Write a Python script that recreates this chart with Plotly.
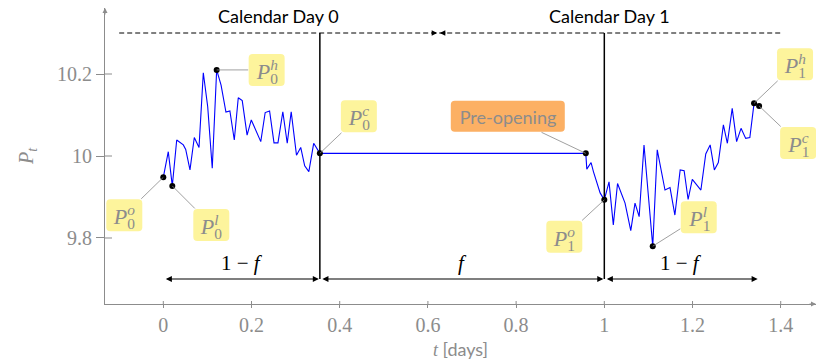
import plotly.graph_objects as go

# ---- price path data -------------------------------------------------------
# trading session of calendar day 0 (open -> close)
day0_t = [0, 0.0113, 0.0204, 0.0304, 0.0454, 0.0508, 0.0605, 0.0703, 0.081, 0.0907,
          0.1007, 0.111, 0.121, 0.131, 0.142, 0.151, 0.161, 0.170, 0.179, 0.190,
          0.1995, 0.221, 0.231, 0.241, 0.251, 0.260, 0.271, 0.281, 0.290, 0.302,
          0.3116, 0.3206, 0.330, 0.341, 0.355]
day0_p = [9.948, 10.0105, 9.927, 10.039, 10.027, 10.016, 9.966, 10.045, 10.021, 10.203,
          10.120, 9.970, 10.21, 10.173, 10.107, 10.11, 10.039, 10.142, 10.135, 10.051,
          10.088, 10.035, 10.106, 10.11, 10.032, 10.032, 10.108, 10.031, 10.108, 10.002,
          10.021, 9.976, 9.962, 10.031, 10.0065]

# pre-opening auction (starts from the previous close)
preopen_t = [0.958, 0.9603, 0.970, 0.9753, 0.983, 0.9905, 1.0]
preopen_p = [10.0065, 9.968, 9.984, 9.962, 9.933, 9.910, 9.893]

# trading session of calendar day 1
day1_t = [1.0, 1.0107, 1.0204, 1.030, 1.047, 1.060, 1.0696, 1.079, 1.090, 1.1098,
          1.120, 1.130, 1.1376, 1.149, 1.160, 1.172, 1.181, 1.190, 1.1995, 1.219,
          1.230, 1.240, 1.2495, 1.2585, 1.270, 1.279, 1.290, 1.300, 1.310, 1.3206,
          1.330, 1.3395, 1.351]
day1_p = [9.893, 9.937, 9.832, 9.933, 9.885, 9.818, 9.885, 9.852, 10.027, 9.78,
          10.015, 9.962, 9.917, 9.923, 9.856, 9.966, 9.964, 9.894, 9.943, 9.917,
          10.005, 10.027, 9.966, 9.984, 10.076, 10.031, 10.116, 10.035, 10.0675, 10.043,
          10.045, 10.1285, 10.122]

# session structure
day_edges = [-0.1, 0.624, 1.4]          # calendar day boundaries
day_titles = ["Calendar Day 0", "Calendar Day 1"]
session_marks = [0.355, 1.0]            # close of day 0, open of day 1
interval_edges = [0.0, 0.355, 1.0, 1.35]
interval_labels = ["1 \u2212 <i>f</i>", "<i>f</i>", "1 \u2212 <i>f</i>"]

x_ticks = [0, 0.2, 0.4, 0.6, 0.8, 1, 1.2, 1.4]
x_tick_text = ["0", "0.2", "0.4", "0.6", "0.8", "1", "1.2", "1.4"]
y_ticks = [9.8, 10, 10.2]
y_tick_text = ["9.8", "10", "10.2"]

X_RANGE = [-0.1322, 1.480]
Y_RANGE = [9.639, 10.361]
LEVEL_TOP = 10.3
LEVEL_ARROWS = 9.7

GRAY = "#8c8c8c"
YELLOW = "#fdf49c"
ORANGE = "#fcb064"
SERIF = "Liberation Serif, Times New Roman, serif"
SANS = "Lato, Open Sans, sans-serif"

fig = go.Figure()

# full path: day 0, overnight flat segment to pre-opening, then day 1
path_t = day0_t + preopen_t + day1_t[1:]
path_p = day0_p + preopen_p + day1_p[1:]
fig.add_trace(go.Scatter(x=path_t, y=path_p, mode="lines",
                         line=dict(color="#0000ff", width=1.1),
                         hoverinfo="skip", showlegend=False))


def label(sub, sup):
    return ("<i>P</i><sub><span style=\"letter-spacing:-0.5em\">%s</span></sub>"
            "<sup><i>%s</i></sup>" % (sub, sup))


def rounded_box(cx, cy, w, h, r=4):
    """Rounded rectangle path (pixel units, y pointing up) centred on (cx, cy)."""
    x0, x1 = cx - w / 2, cx + w / 2
    y0, y1 = cy - h / 2, cy + h / 2
    return (f"M{x0 + r},{y0} L{x1 - r},{y0} Q{x1},{y0} {x1},{y0 + r} "
            f"L{x1},{y1 - r} Q{x1},{y1} {x1 - r},{y1} L{x0 + r},{y1} "
            f"Q{x0},{y1} {x0},{y1 - r} L{x0},{y0 + r} Q{x0},{y0} {x0 + r},{y0} Z")


i_h0 = day0_p.index(max(day0_p))
i_l0 = day0_p.index(min(day0_p))
i_h1 = day1_p.index(max(day1_p))
i_l1 = day1_p.index(min(day1_p))

# (t, price, text, dx, dy, is_preopen)
points = [
    (day0_t[0], day0_p[0], label("0", "o"), -39, 38, False),
    (day0_t[i_l0], day0_p[i_l0], label("0", "l"), 39, 39, False),
    (day0_t[i_h0], day0_p[i_h0], label("0", "h"), 50, 0, False),
    (day0_t[-1], day0_p[-1], label("0", "c"), 39, -37, False),
    (preopen_t[0], preopen_p[0], "Pre-opening", -78, -37, True),
    (day1_t[0], day1_p[0], label("1", "o"), -40, 37, False),
    (day1_t[i_l1], day1_p[i_l1], label("1", "l"), 46, -29, False),
    (day1_t[i_h1], day1_p[i_h1], label("1", "h"), 41, -39, False),
    (day1_t[-1], day1_p[-1], label("1", "c"), 39, 37, False),
]

fig.add_trace(go.Scatter(x=[p[0] for p in points], y=[p[1] for p in points],
                         mode="markers", marker=dict(color="black", size=6),
                         hoverinfo="skip", showlegend=False, cliponaxis=False))

annotations = []
shapes = []
for t, p, txt, dx, dy, pre in points:
    w, h = (114, 31) if pre else (36, 32)
    # rounded background box, anchored on the marked point
    shapes.append(dict(type="path", xref="x", yref="y",
                       xsizemode="pixel", ysizemode="pixel", xanchor=t, yanchor=p,
                       path=rounded_box(dx, -dy, w, h),
                       fillcolor=ORANGE if pre else YELLOW, line=dict(width=0),
                       layer="above"))
    annotations.append(dict(
        x=t, y=p, xref="x", yref="y", text=txt, showarrow=True,
        ax=dx, ay=dy, arrowhead=0, arrowwidth=0.8, arrowcolor="#888888",
        standoff=0, borderpad=0, width=w, height=h,
        font=dict(family=SANS if pre else SERIF, size=18 if pre else 22, color=GRAY),
    ))

# dashed calendar line and day titles
shapes.append(dict(type="line", xref="x", yref="y", x0=day_edges[0], x1=day_edges[-1],
                   y0=LEVEL_TOP, y1=LEVEL_TOP,
                   line=dict(color="black", width=1, dash="5px,3px")))
for k, title in enumerate(day_titles):
    annotations.append(dict(x=(day_edges[k] + day_edges[k + 1]) / 2, y=LEVEL_TOP,
                            xref="x", yref="y", text=title, showarrow=False,
                            yshift=17, font=dict(family=SANS, size=18, color="black")))
# arrowheads meeting at the day boundary
annotations.append(dict(x=day_edges[1] - 0.003, y=LEVEL_TOP, xref="x", yref="y", text="",
                        showarrow=True, ax=-7, ay=0, arrowhead=2, arrowsize=1.1,
                        arrowwidth=1, arrowcolor="black"))
annotations.append(dict(x=day_edges[1] + 0.003, y=LEVEL_TOP, xref="x", yref="y", text="",
                        showarrow=True, ax=7, ay=0, arrowhead=2, arrowsize=1.1,
                        arrowwidth=1, arrowcolor="black"))

# session boundary verticals
for m in session_marks:
    shapes.append(dict(type="line", xref="x", yref="y", x0=m, x1=m,
                       y0=LEVEL_ARROWS, y1=LEVEL_TOP,
                       line=dict(color="black", width=1.5)))

# interval arrows with labels
for k, txt in enumerate(interval_labels):
    a, b = interval_edges[k], interval_edges[k + 1]
    annotations.append(dict(x=b, y=LEVEL_ARROWS, ax=a, ay=LEVEL_ARROWS,
                            xref="x", yref="y", axref="x", ayref="y", text="",
                            showarrow=True, arrowside="end+start", arrowhead=2,
                            startarrowhead=2, arrowsize=1.1, startarrowsize=1.1,
                            arrowwidth=1.1, arrowcolor="black", standoff=1,
                            startstandoff=1))
    annotations.append(dict(x=(a + b) / 2, y=LEVEL_ARROWS, xref="x", yref="y", text=txt,
                            showarrow=False, yshift=16,
                            font=dict(family=SERIF, size=21, color="black")))

# ticks crossing the axes (inner half)
for v in x_ticks:
    shapes.append(dict(type="line", xref="x", yref="paper", x0=v, x1=v,
                       ysizemode="pixel", yanchor=0, y0=0, y1=3,
                       line=dict(color=GRAY, width=1)))
for v in y_ticks:
    shapes.append(dict(type="line", xref="paper", yref="y", y0=v, y1=v,
                       xsizemode="pixel", xanchor=0, x0=0, x1=7,
                       line=dict(color=GRAY, width=1)))

# axis arrowheads
annotations.append(dict(x=X_RANGE[1], y=Y_RANGE[0], xref="x", yref="y", text="",
                        showarrow=True, ax=-8, ay=0, arrowhead=2, arrowsize=1,
                        arrowwidth=1, arrowcolor=GRAY))
annotations.append(dict(x=X_RANGE[0], y=Y_RANGE[1], xref="x", yref="y", text="",
                        showarrow=True, ax=0, ay=8, arrowhead=2, arrowsize=1,
                        arrowwidth=1, arrowcolor=GRAY))

fig.update_layout(
    width=817, height=363,
    margin=dict(l=105, r=1, t=8, b=59),
    paper_bgcolor="white", plot_bgcolor="white",
    shapes=shapes, annotations=annotations,
    xaxis=dict(range=X_RANGE, showgrid=False, zeroline=False, showline=True,
               linecolor=GRAY, linewidth=1, ticks="outside", ticklen=3,
               tickcolor=GRAY, tickvals=x_ticks, ticktext=x_tick_text,
               tickfont=dict(family=SERIF, size=20, color=GRAY),
               title=dict(text="<span style=\"font-family:Liberation Serif\"><i>t</i></span> [days]",
                          font=dict(family=SANS, size=18, color=GRAY), standoff=8)),
    yaxis=dict(range=Y_RANGE, showgrid=False, zeroline=False, showline=True,
               linecolor=GRAY, linewidth=1, ticks="outside", ticklen=8,
               tickcolor=GRAY, tickvals=y_ticks, ticktext=y_tick_text,
               tickfont=dict(family=SERIF, size=20, color=GRAY),
               title=dict(text="<i>P</i><sub><i>t</i></sub>",
                          font=dict(family=SERIF, size=20, color=GRAY), standoff=18)),
)

fig.write_html("out.html")
